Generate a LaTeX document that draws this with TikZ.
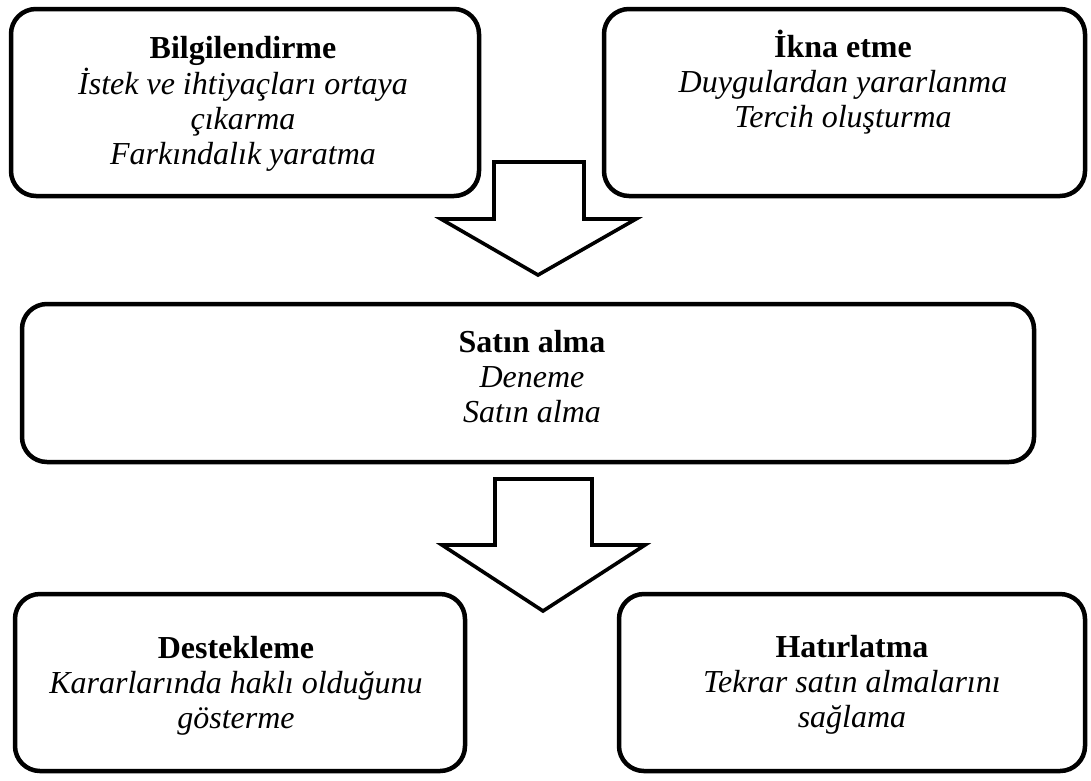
\documentclass[tikz,border=0pt]{standalone}
\usepackage{fontspec}
\setmainfont{Liberation Serif}
\begin{document}
\begin{tikzpicture}[x=1pt,y=-1pt,
  box/.style={draw=black, line width=4.5pt, rounded corners=25pt, inner sep=0pt},
  txt/.style={anchor=base, inner sep=0pt, font=\fontsize{32}{35}\selectfont},
  blockarrow/.style={draw=black, fill=white, line width=3.6pt, line join=miter}]
\useasboundingbox (0,0) rectangle (1091,780);
% boxes
\node[box, minimum width=468pt, minimum height=187pt] (b1) at (245,102.5) {};
\node[box, minimum width=481pt, minimum height=187pt] (b2) at (844.5,102.5) {};
\node[box, minimum width=1012pt, minimum height=158pt] (b3) at (528,383) {};
\node[box, minimum width=450pt, minimum height=177pt] (b4) at (240,682.5) {};
\node[box, minimum width=466pt, minimum height=177pt] (b5) at (852,682.5) {};
% texts
\node[txt] (t1) at (243,58) {\begin{tabular}[t]{@{}c@{}}\textbf{Bilgilendirme}\\ \textit{İstek ve ihtiyaçları ortaya}\\ \textit{çıkarma}\\ \textit{Farkındalık yaratma}\end{tabular}};
\node[txt] (t2) at (843,57) {\begin{tabular}[t]{@{}c@{}}\textbf{İkna etme}\\ \textit{Duygulardan yararlanma}\\ \textit{Tercih oluşturma}\end{tabular}};
\node[txt] (t3) at (532,352) {\begin{tabular}[t]{@{}c@{}}\textbf{Satın alma}\\ \textit{Deneme}\\ \textit{Satın alma}\end{tabular}};
\node[txt] (t4) at (236,658) {\begin{tabular}[t]{@{}c@{}}\textbf{Destekleme}\\ \textit{Kararlarında haklı olduğunu}\\ \textit{gösterme}\end{tabular}};
\node[txt] (t5) at (852,657) {\begin{tabular}[t]{@{}c@{}}\textbf{Hatırlatma}\\ \textit{Tekrar satın almalarını}\\ \textit{sağlama}\end{tabular}};
% block arrows
\draw[blockarrow] (494,162) -- (584,162) -- (584,219) -- (636,219) -- (538,275) -- (441,219) -- (494,219) -- cycle;
\draw[blockarrow] (495,479) -- (592,479) -- (592,545) -- (645,545) -- (543,611) -- (442,545) -- (495,545) -- cycle;
\end{tikzpicture}
\end{document}
